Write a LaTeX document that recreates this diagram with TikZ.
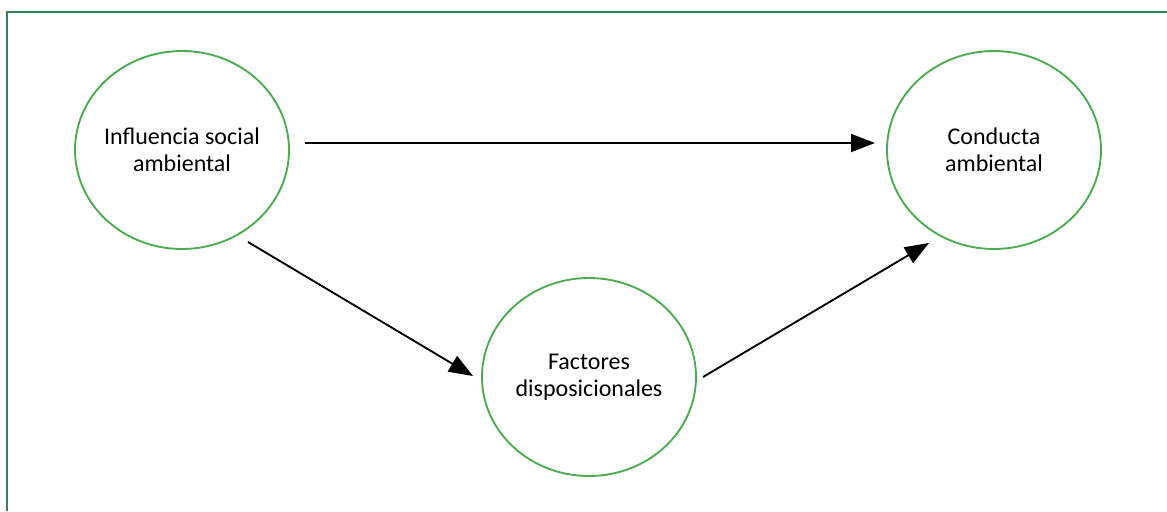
\documentclass[tikz,border=0pt]{standalone}
\usepackage{fontspec}
\setmainfont{Carlito}
\usetikzlibrary{arrows.meta,shapes.geometric,calc}
\definecolor{circgreen}{RGB}{76,170,80}
\definecolor{framegreen}{RGB}{50,130,85}
\begin{document}
\begin{tikzpicture}[x=0.75pt,y=-0.75pt,
  bubble/.style={ellipse,draw=circgreen,line width=1.4pt,minimum width=160.5pt,minimum height=148.5pt,inner xsep=-20pt,inner ysep=0pt,align=center,font=\fontsize{18}{20.5}\selectfont},
  arr/.style={line width=1.4pt,-{Triangle[length=18pt,width=13.5pt]}}]
\useasboundingbox (0,0) rectangle (1167,511);
\draw[framegreen,line width=1.5pt] (7,511) -- (7,11.5) -- (1167,11.5);
\node[bubble] (isa) at (182,150) {Influencia social\\ambiental};
\node[bubble] (cond) at (994,150) {Conducta\\ambiental};
\node[bubble] (fd) at (589,377) {Factores\\disposicionales};
\draw[arr] ($(isa.center)+(123,-7)$) -- ($(cond.center)+(-119,-7)$);
\draw[arr] ($(isa.center)+(66,92)$) -- ($(fd.center)+(-116,-1)$);
\draw[arr] ($(fd.center)+(114,0)$) -- ($(cond.center)+(-65,93)$);
\end{tikzpicture}
\end{document}
